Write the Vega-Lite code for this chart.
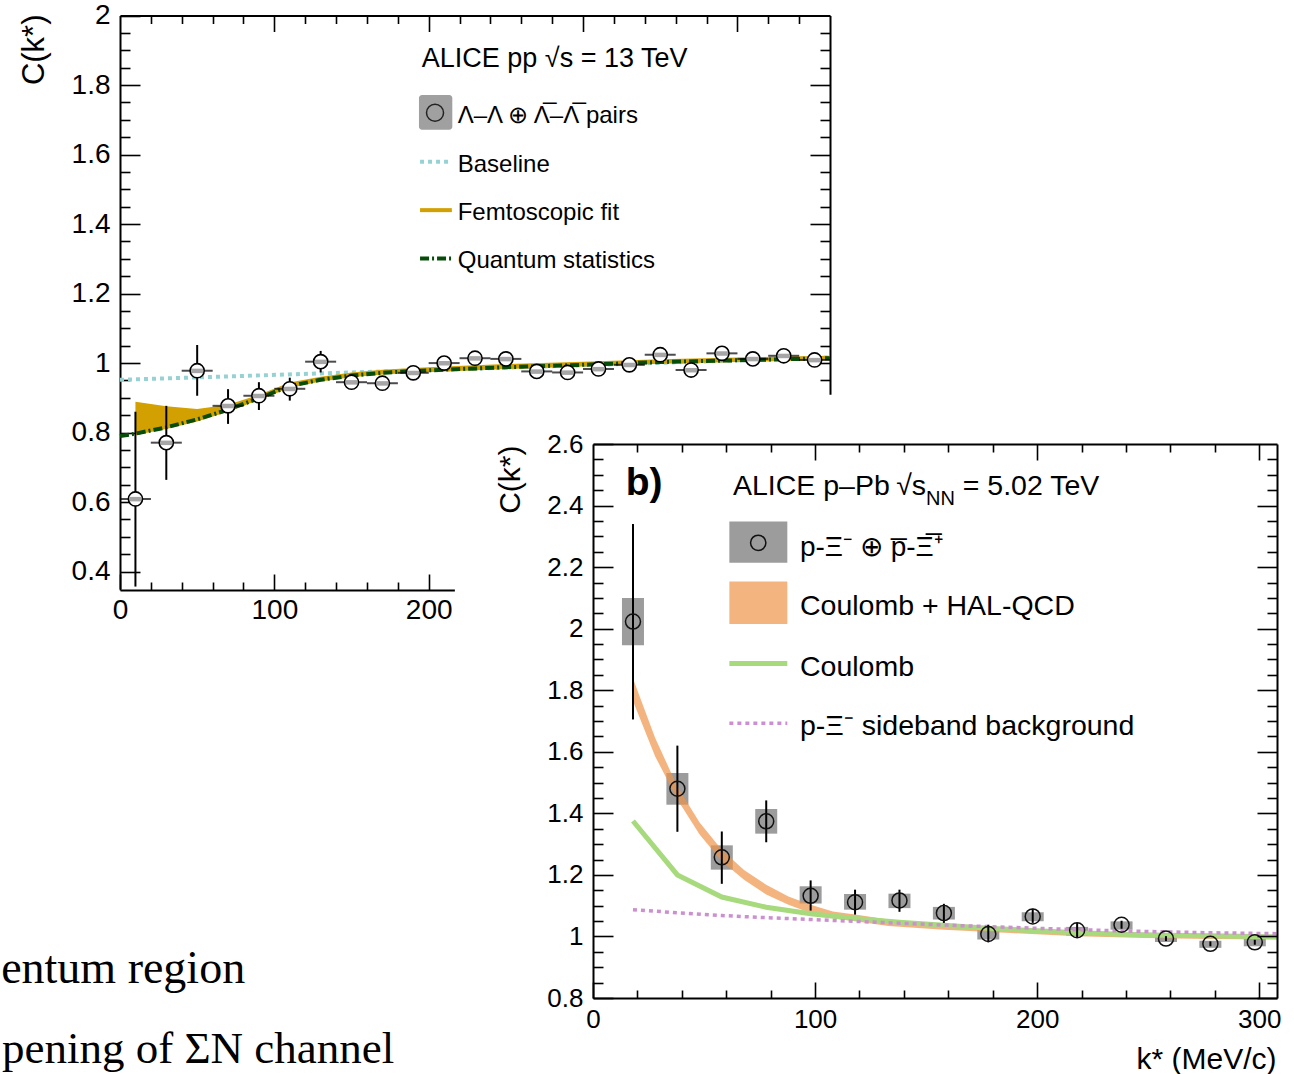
{
"$schema": "https://vega.github.io/schema/vega-lite/v6.json",
"width": 1294, "height": 1074, "autosize": "none", "padding": 0, "background": "white",
"config": {"view": {"stroke": null}, "scale": {"continuousPadding": 0},
 "axis": {"domainColor": "black", "domainWidth": 2, "tickColor": "black", "tickWidth": 1.6, "labelColor": "black", "labelFont": "Liberation Sans", "labelFlush": false, "labelOverlap": false, "labelBound": false, "grid": false, "titleColor": "black", "titleFont": "Liberation Sans", "titleFontWeight": "normal"}},
"datasets": {
 "a_pts": [
  {"k":10,"c":0.609,"lo":0.357,"hi":0.860,"slo":0.602,"shi":0.615},
  {"k":30,"c":0.771,"lo":0.664,"hi":0.877,"slo":0.764,"shi":0.777},
  {"k":50,"c":0.978,"lo":0.906,"hi":1.052,"slo":0.971,"shi":0.984},
  {"k":70,"c":0.877,"lo":0.825,"hi":0.925,"slo":0.870,"shi":0.883},
  {"k":90,"c":0.906,"lo":0.865,"hi":0.945,"slo":0.899,"shi":0.912},
  {"k":110,"c":0.926,"lo":0.892,"hi":0.958,"slo":0.919,"shi":0.932},
  {"k":130,"c":1.004,"lo":0.973,"hi":1.035,"slo":0.997,"shi":1.010},
  {"k":150,"c":0.945,"lo":0.930,"hi":0.960,"slo":0.938,"shi":0.951},
  {"k":170,"c":0.942,"lo":0.928,"hi":0.956,"slo":0.935,"shi":0.948},
  {"k":190,"c":0.972,"lo":0.960,"hi":0.984,"slo":0.965,"shi":0.978},
  {"k":210,"c":1.000,"lo":0.990,"hi":1.010,"slo":0.993,"shi":1.006},
  {"k":230,"c":1.014,"lo":1.004,"hi":1.024,"slo":1.007,"shi":1.020},
  {"k":250,"c":1.012,"lo":1.002,"hi":1.022,"slo":1.005,"shi":1.018},
  {"k":270,"c":0.976,"lo":0.966,"hi":0.986,"slo":0.969,"shi":0.982},
  {"k":290,"c":0.973,"lo":0.963,"hi":0.983,"slo":0.966,"shi":0.979},
  {"k":310,"c":0.983,"lo":0.973,"hi":0.993,"slo":0.976,"shi":0.989},
  {"k":330,"c":0.995,"lo":0.985,"hi":1.005,"slo":0.988,"shi":1.001},
  {"k":350,"c":1.024,"lo":1.014,"hi":1.034,"slo":1.017,"shi":1.030},
  {"k":370,"c":0.980,"lo":0.970,"hi":0.990,"slo":0.973,"shi":0.986},
  {"k":390,"c":1.028,"lo":1.018,"hi":1.038,"slo":1.021,"shi":1.034},
  {"k":410,"c":1.012,"lo":1.002,"hi":1.022,"slo":1.005,"shi":1.018},
  {"k":430,"c":1.021,"lo":1.011,"hi":1.031,"slo":1.014,"shi":1.027},
  {"k":450,"c":1.009,"lo":0.999,"hi":1.019,"slo":1.002,"shi":1.015}
 ],
 "a_fit": [
  {"k":10,"lo":0.793,"hi":0.889},{"k":30,"lo":0.810,"hi":0.876},{"k":50,"lo":0.832,"hi":0.868},
  {"k":70,"lo":0.860,"hi":0.880},{"k":90,"lo":0.894,"hi":0.909},{"k":110,"lo":0.929,"hi":0.944},
  {"k":130,"lo":0.947,"hi":0.961},{"k":150,"lo":0.959,"hi":0.973},{"k":170,"lo":0.967,"hi":0.981},
  {"k":190,"lo":0.972,"hi":0.986},{"k":210,"lo":0.976,"hi":0.990},{"k":250,"lo":0.983,"hi":0.997},
  {"k":300,"lo":0.990,"hi":1.004},{"k":350,"lo":0.998,"hi":1.011},{"k":400,"lo":1.003,"hi":1.016},
  {"k":460,"lo":1.009,"hi":1.021}
 ],
 "a_qs": [
  {"k":0,"c":0.790},{"k":10,"c":0.797},{"k":30,"c":0.815},{"k":50,"c":0.838},{"k":70,"c":0.866},
  {"k":90,"c":0.899},{"k":110,"c":0.934},{"k":130,"c":0.952},{"k":150,"c":0.964},{"k":170,"c":0.972},
  {"k":190,"c":0.977},{"k":210,"c":0.981},{"k":250,"c":0.988},{"k":300,"c":0.995},{"k":350,"c":1.003},
  {"k":400,"c":1.008},{"k":460,"c":1.014}
 ],
 "a_base": [{"k":0,"c":0.952},{"k":460,"c":1.016}],
 "b_pts": [
  {"k":18,"c":2.023,"lo":1.705,"hi":2.340,"slo":1.946,"shi":2.100},
  {"k":38,"c":1.480,"lo":1.340,"hi":1.620,"slo":1.428,"shi":1.531},
  {"k":58,"c":1.257,"lo":1.171,"hi":1.341,"slo":1.217,"shi":1.296},
  {"k":78,"c":1.374,"lo":1.306,"hi":1.442,"slo":1.334,"shi":1.414},
  {"k":98,"c":1.132,"lo":1.084,"hi":1.182,"slo":1.107,"shi":1.163},
  {"k":118,"c":1.111,"lo":1.071,"hi":1.152,"slo":1.087,"shi":1.138},
  {"k":138,"c":1.117,"lo":1.080,"hi":1.152,"slo":1.092,"shi":1.139},
  {"k":158,"c":1.076,"lo":1.044,"hi":1.106,"slo":1.055,"shi":1.096},
  {"k":178,"c":1.008,"lo":0.981,"hi":1.038,"slo":0.990,"shi":1.028},
  {"k":198,"c":1.065,"lo":1.044,"hi":1.090,"slo":1.049,"shi":1.079},
  {"k":218,"c":1.020,"lo":0.998,"hi":1.044,"slo":1.003,"shi":1.031},
  {"k":238,"c":1.038,"lo":1.025,"hi":1.051,"slo":1.022,"shi":1.049},
  {"k":258,"c":0.993,"lo":0.985,"hi":1.001,"slo":0.982,"shi":1.004},
  {"k":278,"c":0.976,"lo":0.968,"hi":0.984,"slo":0.963,"shi":0.986},
  {"k":298,"c":0.981,"lo":0.973,"hi":0.989,"slo":0.968,"shi":0.992}
 ],
 "b_hal": [
  {"k":18,"lo":1.765,"hi":1.838},{"k":28,"lo":1.585,"hi":1.645},{"k":38,"lo":1.445,"hi":1.487},
  {"k":48,"lo":1.331,"hi":1.370},{"k":58,"lo":1.244,"hi":1.282},{"k":68,"lo":1.184,"hi":1.216},
  {"k":78,"lo":1.136,"hi":1.168},{"k":88,"lo":1.103,"hi":1.130},{"k":98,"lo":1.076,"hi":1.103},
  {"k":108,"lo":1.059,"hi":1.081},{"k":118,"lo":1.049,"hi":1.071},{"k":133,"lo":1.034,"hi":1.055},
  {"k":158,"lo":1.022,"hi":1.038},{"k":188,"lo":1.011,"hi":1.028},{"k":218,"lo":1.001,"hi":1.016},
  {"k":248,"lo":0.995,"hi":1.009},{"k":278,"lo":0.992,"hi":1.003},{"k":308,"lo":0.990,"hi":1.000}
 ],
 "b_coul": [
  {"k":18,"c":1.375},{"k":38,"c":1.200},{"k":58,"c":1.128},{"k":78,"c":1.095},{"k":98,"c":1.074},
  {"k":118,"c":1.058},{"k":138,"c":1.046},{"k":158,"c":1.036},{"k":178,"c":1.027},{"k":198,"c":1.019},
  {"k":218,"c":1.012},{"k":238,"c":1.007},{"k":258,"c":1.004},{"k":278,"c":1.002},{"k":298,"c":1.000},
  {"k":308,"c":0.999}
 ],
 "b_side": [
  {"k":18,"c":1.087},{"k":38,"c":1.077},{"k":58,"c":1.068},{"k":78,"c":1.061},{"k":98,"c":1.055},
  {"k":118,"c":1.049},{"k":138,"c":1.043},{"k":158,"c":1.037},{"k":178,"c":1.032},{"k":198,"c":1.027},
  {"k":218,"c":1.022},{"k":238,"c":1.018},{"k":258,"c":1.015},{"k":278,"c":1.012},{"k":298,"c":1.010},
  {"k":308,"c":1.009}
 ]
},
"resolve": {"scale": {"x": "independent", "y": "independent"}},
"layer": [
 {
  "resolve": {"axis": {"x": "independent", "y": "independent"}},
  "layer": [
   {"data": {"name": "a_base"},
    "mark": {"type": "line", "color": "#96d2d2", "strokeWidth": 4, "strokeDash": [4, 4]},
    "encoding": {
     "x": {"field": "k", "type": "quantitative", "scale": {"domain": [0, 460], "range": [120, 830], "nice": false, "zero": false, "padding": 0},
      "axis": {"orient": "bottom", "offset": -484, "values": [0,20,40,60,80,100,120,140,160,180,200,220,240,260,280,300,320,340,360,380,400,420,440], "format": "d", "labelFlush": false, "labelAlign": "center", "labelExpr": "datum.value % 100 === 0 && datum.value <= 200 ? datum.label : ''", "tickSize": {"condition": {"test": "datum.value % 100 === 0", "value": -16}, "value": -8}, "labelPadding": 22, "labelFontSize": 28, "title": null}},
     "y": {"field": "c", "type": "quantitative", "scale": {"domain": [0.35, 2], "range": [589, 15.5], "nice": false, "zero": false, "padding": 0},
      "axis": {"orient": "left", "offset": -120, "values": [0.4,0.45,0.5,0.55,0.6,0.65,0.7,0.75,0.8,0.85,0.9,0.95,1,1.05,1.1,1.15,1.2,1.25,1.3,1.35,1.4,1.45,1.5,1.55,1.6,1.65,1.7,1.75,1.8,1.85,1.9,1.95,2], "format": "~f", "labelFlush": false, "labelExpr": "abs(datum.value*5 - round(datum.value*5)) < 0.001 ? datum.label : ''", "tickSize": {"condition": {"test": "abs(datum.value*5 - round(datum.value*5)) < 0.001", "value": -20}, "value": -10}, "labelPadding": 30, "labelFontSize": 28, "title": "C(k*)", "titleFontSize": 31, "titleAngle": -90, "titleX": -86, "titleY": 14, "titleAlign": "right", "titleBaseline": "middle"}}
    }},
   {"data": {"name": "a_fit"},
    "mark": {"type": "area", "color": "#d2a000", "opacity": 1},
    "encoding": {
     "x": {"field": "k", "type": "quantitative", "scale": {"domain": [0, 460], "range": [120, 830], "nice": false, "zero": false, "padding": 0},
      "axis": {"orient": "top", "offset": -15.5, "values": [20,40,60,80,100,120,140,160,180,200,220,240,260,280,300,320,340,360,380,400,420,440], "labels": false, "tickSize": {"condition": {"test": "datum.value % 100 === 0", "value": -16}, "value": -8}, "title": null}},
     "y": {"field": "lo", "type": "quantitative", "scale": {"domain": [0.35, 2], "range": [589, 15.5], "nice": false, "zero": false, "padding": 0},
      "axis": {"orient": "right", "offset": -464, "values": [0.4,0.45,0.5,0.55,0.6,0.65,0.7,0.75,0.8,0.85,0.9,0.95,1,1.05,1.1,1.15,1.2,1.25,1.3,1.35,1.4,1.45,1.5,1.55,1.6,1.65,1.7,1.75,1.8,1.85,1.9,1.95], "labels": false, "tickSize": {"condition": {"test": "abs(datum.value*5 - round(datum.value*5)) < 0.001", "value": -20}, "value": -10}, "title": null}},
     "y2": {"field": "hi"}
    }},
   {"data": {"name": "a_qs"},
    "mark": {"type": "line", "color": "#064d0a", "strokeWidth": 4, "strokeDash": [9, 3, 2, 3]},
    "encoding": {
     "x": {"field": "k", "type": "quantitative", "scale": {"domain": [0, 460], "range": [120, 830], "nice": false, "zero": false, "padding": 0}, "axis": null},
     "y": {"field": "c", "type": "quantitative", "scale": {"domain": [0.35, 2], "range": [589, 15.5], "nice": false, "zero": false, "padding": 0}, "axis": null}
    }},
   {"data": {"name": "a_pts"},
    "mark": {"type": "rule", "color": "black", "strokeWidth": 2},
    "encoding": {
     "x": {"field": "k", "type": "quantitative", "scale": {"domain": [0, 460], "range": [120, 830], "nice": false, "zero": false, "padding": 0}, "axis": null},
     "y": {"field": "lo", "type": "quantitative", "scale": {"domain": [0.35, 2], "range": [589, 15.5], "nice": false, "zero": false, "padding": 0}, "axis": null},
     "y2": {"field": "hi"}
    }},
   {"data": {"name": "a_pts"},
    "mark": {"type": "tick", "orient": "horizontal", "color": "black", "size": 31, "thickness": 2},
    "encoding": {
     "x": {"field": "k", "type": "quantitative", "scale": {"domain": [0, 460], "range": [120, 830], "nice": false, "zero": false, "padding": 0}, "axis": null},
     "y": {"field": "c", "type": "quantitative", "scale": {"domain": [0.35, 2], "range": [589, 15.5], "nice": false, "zero": false, "padding": 0}, "axis": null}
    }},
   {"data": {"name": "a_pts"},
    "mark": {"type": "point", "shape": "circle", "filled": true, "fill": "white", "opacity": 1, "size": 200},
    "encoding": {
     "x": {"field": "k", "type": "quantitative", "scale": {"domain": [0, 460], "range": [120, 830], "nice": false, "zero": false, "padding": 0}, "axis": null},
     "y": {"field": "c", "type": "quantitative", "scale": {"domain": [0.35, 2], "range": [589, 15.5], "nice": false, "zero": false, "padding": 0}, "axis": null}
    }},
   {"data": {"name": "a_pts"},
    "mark": {"type": "bar", "color": "#a6a6a6", "width": 12},
    "encoding": {
     "x": {"field": "k", "type": "quantitative", "scale": {"domain": [0, 460], "range": [120, 830], "nice": false, "zero": false, "padding": 0}, "axis": null},
     "y": {"field": "slo", "type": "quantitative", "scale": {"domain": [0.35, 2], "range": [589, 15.5], "nice": false, "zero": false, "padding": 0}, "axis": null},
     "y2": {"field": "shi"}
    }},
   {"data": {"name": "a_pts"},
    "mark": {"type": "point", "shape": "circle", "filled": false, "stroke": "black", "strokeWidth": 1.6, "opacity": 1, "size": 200},
    "encoding": {
     "x": {"field": "k", "type": "quantitative", "scale": {"domain": [0, 460], "range": [120, 830], "nice": false, "zero": false, "padding": 0}, "axis": null},
     "y": {"field": "c", "type": "quantitative", "scale": {"domain": [0.35, 2], "range": [589, 15.5], "nice": false, "zero": false, "padding": 0}, "axis": null}
    }},
   {"data": {"values": [{}]},
    "mark": {"type": "text", "text": "ALICE pp  \u221as = 13 TeV", "font": "Liberation Sans", "fontSize": 27, "align": "left", "baseline": "alphabetic", "color": "black"},
    "encoding": {
     "x": {"datum": 195.5, "type": "quantitative", "scale": {"domain": [0, 460], "range": [120, 830], "nice": false, "zero": false, "padding": 0}, "axis": null},
     "y": {"datum": 1.853, "type": "quantitative", "scale": {"domain": [0.35, 2], "range": [589, 15.5], "nice": false, "zero": false, "padding": 0}, "axis": null}
    }},
   {"data": {"values": [{}]},
    "mark": {"type": "rect", "color": "#a0a0a0", "cornerRadius": 3},
    "encoding": {
     "x": {"datum": 193.7, "type": "quantitative", "scale": {"domain": [0, 460], "range": [120, 830], "nice": false, "zero": false, "padding": 0}, "axis": null},
     "x2": {"datum": 215.3},
     "y": {"datum": 1.771, "type": "quantitative", "scale": {"domain": [0.35, 2], "range": [589, 15.5], "nice": false, "zero": false, "padding": 0}, "axis": null},
     "y2": {"datum": 1.671}
    }},
   {"data": {"values": [{}]},
    "mark": {"type": "point", "shape": "circle", "filled": false, "stroke": "#222222", "strokeWidth": 1.5, "opacity": 1, "size": 290},
    "encoding": {
     "x": {"datum": 204.1, "type": "quantitative", "scale": {"domain": [0, 460], "range": [120, 830], "nice": false, "zero": false, "padding": 0}, "axis": null},
     "y": {"datum": 1.720, "type": "quantitative", "scale": {"domain": [0.35, 2], "range": [589, 15.5], "nice": false, "zero": false, "padding": 0}, "axis": null}
    }},
   {"data": {"values": [{}]},
    "mark": {"type": "text", "text": "\u039b\u2013\u039b \u2295 \u039b\u0305\u2013\u039b\u0305 pairs", "font": "Liberation Sans", "fontSize": 24, "align": "left", "baseline": "alphabetic", "color": "black"},
    "encoding": {
     "x": {"datum": 218.8, "type": "quantitative", "scale": {"domain": [0, 460], "range": [120, 830], "nice": false, "zero": false, "padding": 0}, "axis": null},
     "y": {"datum": 1.690, "type": "quantitative", "scale": {"domain": [0.35, 2], "range": [589, 15.5], "nice": false, "zero": false, "padding": 0}, "axis": null}
    }},
   {"data": {"values": [{}]},
    "mark": {"type": "rule", "color": "#96d2d2", "strokeWidth": 4, "strokeDash": [4, 4]},
    "encoding": {
     "x": {"datum": 194.4, "type": "quantitative", "scale": {"domain": [0, 460], "range": [120, 830], "nice": false, "zero": false, "padding": 0}, "axis": null},
     "x2": {"datum": 215.0},
     "y": {"datum": 1.579, "type": "quantitative", "scale": {"domain": [0.35, 2], "range": [589, 15.5], "nice": false, "zero": false, "padding": 0}, "axis": null}
    }},
   {"data": {"values": [{}]},
    "mark": {"type": "text", "text": "Baseline", "font": "Liberation Sans", "fontSize": 24, "align": "left", "baseline": "alphabetic", "color": "black"},
    "encoding": {
     "x": {"datum": 218.8, "type": "quantitative", "scale": {"domain": [0, 460], "range": [120, 830], "nice": false, "zero": false, "padding": 0}, "axis": null},
     "y": {"datum": 1.551, "type": "quantitative", "scale": {"domain": [0.35, 2], "range": [589, 15.5], "nice": false, "zero": false, "padding": 0}, "axis": null}
    }},
   {"data": {"values": [{}]},
    "mark": {"type": "rule", "color": "#d2a000", "strokeWidth": 4},
    "encoding": {
     "x": {"datum": 194.4, "type": "quantitative", "scale": {"domain": [0, 460], "range": [120, 830], "nice": false, "zero": false, "padding": 0}, "axis": null},
     "x2": {"datum": 215.0},
     "y": {"datum": 1.440, "type": "quantitative", "scale": {"domain": [0.35, 2], "range": [589, 15.5], "nice": false, "zero": false, "padding": 0}, "axis": null}
    }},
   {"data": {"values": [{}]},
    "mark": {"type": "text", "text": "Femtoscopic fit", "font": "Liberation Sans", "fontSize": 24, "align": "left", "baseline": "alphabetic", "color": "black"},
    "encoding": {
     "x": {"datum": 218.8, "type": "quantitative", "scale": {"domain": [0, 460], "range": [120, 830], "nice": false, "zero": false, "padding": 0}, "axis": null},
     "y": {"datum": 1.412, "type": "quantitative", "scale": {"domain": [0.35, 2], "range": [589, 15.5], "nice": false, "zero": false, "padding": 0}, "axis": null}
    }},
   {"data": {"values": [{}]},
    "mark": {"type": "rule", "color": "#064d0a", "strokeWidth": 4, "strokeDash": [9, 3, 2, 3]},
    "encoding": {
     "x": {"datum": 194.4, "type": "quantitative", "scale": {"domain": [0, 460], "range": [120, 830], "nice": false, "zero": false, "padding": 0}, "axis": null},
     "x2": {"datum": 215.0},
     "y": {"datum": 1.301, "type": "quantitative", "scale": {"domain": [0.35, 2], "range": [589, 15.5], "nice": false, "zero": false, "padding": 0}, "axis": null}
    }},
   {"data": {"values": [{}]},
    "mark": {"type": "text", "text": "Quantum statistics", "font": "Liberation Sans", "fontSize": 24, "align": "left", "baseline": "alphabetic", "color": "black"},
    "encoding": {
     "x": {"datum": 218.8, "type": "quantitative", "scale": {"domain": [0, 460], "range": [120, 830], "nice": false, "zero": false, "padding": 0}, "axis": null},
     "y": {"datum": 1.273, "type": "quantitative", "scale": {"domain": [0.35, 2], "range": [589, 15.5], "nice": false, "zero": false, "padding": 0}, "axis": null}
    }},
   {"data": {"values": [{}]},
    "mark": {"type": "text", "text": "entum region", "font": "Liberation Serif", "fontSize": 46, "align": "left", "baseline": "alphabetic", "color": "black"},
    "encoding": {
     "x": {"datum": -77.0, "type": "quantitative", "scale": {"domain": [0, 460], "range": [120, 830], "nice": false, "zero": false, "padding": 0}, "axis": null},
     "y": {"datum": -0.7835, "type": "quantitative", "scale": {"domain": [0.35, 2], "range": [589, 15.5], "nice": false, "zero": false, "padding": 0}, "axis": null}
    }},
   {"data": {"values": [{}]},
    "mark": {"type": "text", "text": "pening of \u03a3N channel", "font": "Liberation Serif", "fontSize": 45, "align": "left", "baseline": "alphabetic", "color": "black"},
    "encoding": {
     "x": {"datum": -76.5, "type": "quantitative", "scale": {"domain": [0, 460], "range": [120, 830], "nice": false, "zero": false, "padding": 0}, "axis": null},
     "y": {"datum": -1.0137, "type": "quantitative", "scale": {"domain": [0.35, 2], "range": [589, 15.5], "nice": false, "zero": false, "padding": 0}, "axis": null}
    }}
  ]
 },
 {
  "resolve": {"axis": {"x": "independent", "y": "independent"}},
  "layer": [
   {"data": {"values": [{}]},
    "mark": {"type": "rect", "color": "white", "opacity": 1},
    "encoding": {
     "x": {"datum": -62.2, "type": "quantitative", "scale": {"domain": [0, 308], "range": [593, 1277], "nice": false, "zero": false, "padding": 0}, "axis": null},
     "x2": {"datum": 316},
     "y": {"datum": 2.76, "type": "quantitative", "scale": {"domain": [0.8, 2.6], "range": [998, 444], "nice": false, "zero": false, "padding": 0}, "axis": null},
     "y2": {"datum": 0.55}
    }},
   {"data": {"name": "b_pts"},
    "mark": {"type": "bar", "color": "#9c9c9c", "width": 22},
    "encoding": {
     "x": {"field": "k", "type": "quantitative", "scale": {"domain": [0, 308], "range": [593, 1277], "nice": false, "zero": false, "padding": 0},
      "axis": {"orient": "bottom", "offset": -76, "zindex": 1, "values": [0,20,40,60,80,100,120,140,160,180,200,220,240,260,280,300], "format": "d", "labelFlush": false, "labelAlign": "center", "labelExpr": "datum.value % 100 === 0 ? datum.label : ''", "tickSize": {"condition": {"test": "datum.value % 100 === 0", "value": -16}, "value": -8}, "labelPadding": 24, "labelFontSize": 26, "title": "k* (MeV/c)", "titleFontSize": 30, "titleAngle": 0, "titleX": 1276, "titleY": 70, "titleAlign": "right", "titleBaseline": "alphabetic"}},
     "y": {"field": "slo", "type": "quantitative", "scale": {"domain": [0.8, 2.6], "range": [998, 444], "nice": false, "zero": false, "padding": 0},
      "axis": {"orient": "left", "offset": -593, "zindex": 1, "values": [0.8,0.85,0.9,0.95,1,1.05,1.1,1.15,1.2,1.25,1.3,1.35,1.4,1.45,1.5,1.55,1.6,1.65,1.7,1.75,1.8,1.85,1.9,1.95,2,2.05,2.1,2.15,2.2,2.25,2.3,2.35,2.4,2.45,2.5,2.55,2.6], "format": "~f", "labelFlush": false, "labelExpr": "abs(datum.value*5 - round(datum.value*5)) < 0.001 ? datum.label : ''", "tickSize": {"condition": {"test": "abs(datum.value*5 - round(datum.value*5)) < 0.001", "value": -20}, "value": -10}, "labelPadding": 30, "labelFontSize": 26, "title": "C(k*)", "titleFontSize": 30, "titleAngle": -90, "titleX": -83, "titleY": 445, "titleAlign": "right", "titleBaseline": "middle"}},
     "y2": {"field": "shi"}
    }},
   {"data": {"name": "b_hal"},
    "mark": {"type": "area", "color": "#f0944a", "opacity": 0.7},
    "encoding": {
     "x": {"field": "k", "type": "quantitative", "scale": {"domain": [0, 308], "range": [593, 1277], "nice": false, "zero": false, "padding": 0},
      "axis": {"orient": "top", "offset": -444, "zindex": 1, "values": [20,40,60,80,100,120,140,160,180,200,220,240,260,280,300], "labels": false, "tickSize": {"condition": {"test": "datum.value % 100 === 0", "value": -16}, "value": -8}, "title": null}},
     "y": {"field": "lo", "type": "quantitative", "scale": {"domain": [0.8, 2.6], "range": [998, 444], "nice": false, "zero": false, "padding": 0},
      "axis": {"orient": "right", "offset": -17, "zindex": 1, "values": [0.8,0.85,0.9,0.95,1,1.05,1.1,1.15,1.2,1.25,1.3,1.35,1.4,1.45,1.5,1.55,1.6,1.65,1.7,1.75,1.8,1.85,1.9,1.95,2,2.05,2.1,2.15,2.2,2.25,2.3,2.35,2.4,2.45,2.5,2.55], "labels": false, "tickSize": {"condition": {"test": "abs(datum.value*5 - round(datum.value*5)) < 0.001", "value": -20}, "value": -10}, "title": null}},
     "y2": {"field": "hi"}
    }},
   {"data": {"name": "b_coul"},
    "mark": {"type": "line", "color": "#a6da7c", "strokeWidth": 5},
    "encoding": {
     "x": {"field": "k", "type": "quantitative", "scale": {"domain": [0, 308], "range": [593, 1277], "nice": false, "zero": false, "padding": 0}, "axis": null},
     "y": {"field": "c", "type": "quantitative", "scale": {"domain": [0.8, 2.6], "range": [998, 444], "nice": false, "zero": false, "padding": 0}, "axis": null}
    }},
   {"data": {"name": "b_side"},
    "mark": {"type": "line", "color": "#cc90d0", "strokeWidth": 3.5, "strokeDash": [4, 4]},
    "encoding": {
     "x": {"field": "k", "type": "quantitative", "scale": {"domain": [0, 308], "range": [593, 1277], "nice": false, "zero": false, "padding": 0}, "axis": null},
     "y": {"field": "c", "type": "quantitative", "scale": {"domain": [0.8, 2.6], "range": [998, 444], "nice": false, "zero": false, "padding": 0}, "axis": null}
    }},
   {"data": {"name": "b_pts"},
    "mark": {"type": "rule", "color": "black", "strokeWidth": 2},
    "encoding": {
     "x": {"field": "k", "type": "quantitative", "scale": {"domain": [0, 308], "range": [593, 1277], "nice": false, "zero": false, "padding": 0}, "axis": null},
     "y": {"field": "lo", "type": "quantitative", "scale": {"domain": [0.8, 2.6], "range": [998, 444], "nice": false, "zero": false, "padding": 0}, "axis": null},
     "y2": {"field": "hi"}
    }},
   {"data": {"name": "b_pts"},
    "mark": {"type": "point", "shape": "circle", "filled": false, "stroke": "#111111", "strokeWidth": 1.5, "opacity": 1, "size": 225},
    "encoding": {
     "x": {"field": "k", "type": "quantitative", "scale": {"domain": [0, 308], "range": [593, 1277], "nice": false, "zero": false, "padding": 0}, "axis": null},
     "y": {"field": "c", "type": "quantitative", "scale": {"domain": [0.8, 2.6], "range": [998, 444], "nice": false, "zero": false, "padding": 0}, "axis": null}
    }},
   {"data": {"values": [{}]},
    "mark": {"type": "text", "text": "b)", "font": "Liberation Sans", "fontSize": 39, "fontWeight": "bold", "align": "left", "baseline": "alphabetic", "color": "black"},
    "encoding": {
     "x": {"datum": 14.7, "type": "quantitative", "scale": {"domain": [0, 308], "range": [593, 1277], "nice": false, "zero": false, "padding": 0}, "axis": null},
     "y": {"datum": 2.434, "type": "quantitative", "scale": {"domain": [0.8, 2.6], "range": [998, 444], "nice": false, "zero": false, "padding": 0}, "axis": null}
    }},
   {"data": {"values": [{}]},
    "mark": {"type": "text", "text": "ALICE p\u2013Pb", "font": "Liberation Sans", "fontSize": 28.5, "align": "left", "baseline": "alphabetic", "color": "black"},
    "encoding": {
     "x": {"datum": 63.0, "type": "quantitative", "scale": {"domain": [0, 308], "range": [593, 1277], "nice": false, "zero": false, "padding": 0}, "axis": null},
     "y": {"datum": 2.434, "type": "quantitative", "scale": {"domain": [0.8, 2.6], "range": [998, 444], "nice": false, "zero": false, "padding": 0}, "axis": null}
    }},
   {"data": {"values": [{}]},
    "mark": {"type": "text", "text": "\u221as", "font": "Liberation Sans", "fontSize": 28.5, "align": "left", "baseline": "alphabetic", "color": "black"},
    "encoding": {
     "x": {"datum": 136.5, "type": "quantitative", "scale": {"domain": [0, 308], "range": [593, 1277], "nice": false, "zero": false, "padding": 0}, "axis": null},
     "y": {"datum": 2.434, "type": "quantitative", "scale": {"domain": [0.8, 2.6], "range": [998, 444], "nice": false, "zero": false, "padding": 0}, "axis": null}
    }},
   {"data": {"values": [{}]},
    "mark": {"type": "text", "text": "NN", "font": "Liberation Sans", "fontSize": 20, "align": "left", "baseline": "alphabetic", "color": "black"},
    "encoding": {
     "x": {"datum": 150.0, "type": "quantitative", "scale": {"domain": [0, 308], "range": [593, 1277], "nice": false, "zero": false, "padding": 0}, "axis": null},
     "y": {"datum": 2.402, "type": "quantitative", "scale": {"domain": [0.8, 2.6], "range": [998, 444], "nice": false, "zero": false, "padding": 0}, "axis": null}
    }},
   {"data": {"values": [{}]},
    "mark": {"type": "text", "text": "= 5.02 TeV", "font": "Liberation Sans", "fontSize": 28.5, "align": "left", "baseline": "alphabetic", "color": "black"},
    "encoding": {
     "x": {"datum": 166.5, "type": "quantitative", "scale": {"domain": [0, 308], "range": [593, 1277], "nice": false, "zero": false, "padding": 0}, "axis": null},
     "y": {"datum": 2.434, "type": "quantitative", "scale": {"domain": [0.8, 2.6], "range": [998, 444], "nice": false, "zero": false, "padding": 0}, "axis": null}
    }},
   {"data": {"values": [{}]},
    "mark": {"type": "rect", "color": "#9c9c9c"},
    "encoding": {
     "x": {"datum": 61.4, "type": "quantitative", "scale": {"domain": [0, 308], "range": [593, 1277], "nice": false, "zero": false, "padding": 0}, "axis": null},
     "x2": {"datum": 87.5},
     "y": {"datum": 2.348, "type": "quantitative", "scale": {"domain": [0.8, 2.6], "range": [998, 444], "nice": false, "zero": false, "padding": 0}, "axis": null},
     "y2": {"datum": 2.214}
    }},
   {"data": {"values": [{}]},
    "mark": {"type": "point", "shape": "circle", "filled": false, "stroke": "#111111", "strokeWidth": 1.5, "opacity": 1, "size": 235},
    "encoding": {
     "x": {"datum": 74.4, "type": "quantitative", "scale": {"domain": [0, 308], "range": [593, 1277], "nice": false, "zero": false, "padding": 0}, "axis": null},
     "y": {"datum": 2.279, "type": "quantitative", "scale": {"domain": [0.8, 2.6], "range": [998, 444], "nice": false, "zero": false, "padding": 0}, "axis": null}
    }},
   {"data": {"values": [{}]},
    "mark": {"type": "text", "text": "p-\u039e\u207b \u2295 p\u0305-\u039e\u0305\u207a", "font": "Liberation Sans", "fontSize": 28, "align": "left", "baseline": "alphabetic", "color": "black"},
    "encoding": {
     "x": {"datum": 93.2, "type": "quantitative", "scale": {"domain": [0, 308], "range": [593, 1277], "nice": false, "zero": false, "padding": 0}, "axis": null},
     "y": {"datum": 2.236, "type": "quantitative", "scale": {"domain": [0.8, 2.6], "range": [998, 444], "nice": false, "zero": false, "padding": 0}, "axis": null}
    }},
   {"data": {"values": [{}]},
    "mark": {"type": "rect", "color": "#f0944a", "opacity": 0.7},
    "encoding": {
     "x": {"datum": 61.4, "type": "quantitative", "scale": {"domain": [0, 308], "range": [593, 1277], "nice": false, "zero": false, "padding": 0}, "axis": null},
     "x2": {"datum": 87.5},
     "y": {"datum": 2.153, "type": "quantitative", "scale": {"domain": [0.8, 2.6], "range": [998, 444], "nice": false, "zero": false, "padding": 0}, "axis": null},
     "y2": {"datum": 2.015}
    }},
   {"data": {"values": [{}]},
    "mark": {"type": "text", "text": "Coulomb + HAL-QCD", "font": "Liberation Sans", "fontSize": 28.5, "align": "left", "baseline": "alphabetic", "color": "black"},
    "encoding": {
     "x": {"datum": 93.2, "type": "quantitative", "scale": {"domain": [0, 308], "range": [593, 1277], "nice": false, "zero": false, "padding": 0}, "axis": null},
     "y": {"datum": 2.044, "type": "quantitative", "scale": {"domain": [0.8, 2.6], "range": [998, 444], "nice": false, "zero": false, "padding": 0}, "axis": null}
    }},
   {"data": {"values": [{}]},
    "mark": {"type": "rule", "color": "#a6da7c", "strokeWidth": 5},
    "encoding": {
     "x": {"datum": 61.4, "type": "quantitative", "scale": {"domain": [0, 308], "range": [593, 1277], "nice": false, "zero": false, "padding": 0}, "axis": null},
     "x2": {"datum": 87.5},
     "y": {"datum": 1.887, "type": "quantitative", "scale": {"domain": [0.8, 2.6], "range": [998, 444], "nice": false, "zero": false, "padding": 0}, "axis": null}
    }},
   {"data": {"values": [{}]},
    "mark": {"type": "text", "text": "Coulomb", "font": "Liberation Sans", "fontSize": 28.5, "align": "left", "baseline": "alphabetic", "color": "black"},
    "encoding": {
     "x": {"datum": 93.2, "type": "quantitative", "scale": {"domain": [0, 308], "range": [593, 1277], "nice": false, "zero": false, "padding": 0}, "axis": null},
     "y": {"datum": 1.846, "type": "quantitative", "scale": {"domain": [0.8, 2.6], "range": [998, 444], "nice": false, "zero": false, "padding": 0}, "axis": null}
    }},
   {"data": {"values": [{}]},
    "mark": {"type": "rule", "color": "#cc90d0", "strokeWidth": 3.5, "strokeDash": [4, 4]},
    "encoding": {
     "x": {"datum": 61.4, "type": "quantitative", "scale": {"domain": [0, 308], "range": [593, 1277], "nice": false, "zero": false, "padding": 0}, "axis": null},
     "x2": {"datum": 87.5},
     "y": {"datum": 1.693, "type": "quantitative", "scale": {"domain": [0.8, 2.6], "range": [998, 444], "nice": false, "zero": false, "padding": 0}, "axis": null}
    }},
   {"data": {"values": [{}]},
    "mark": {"type": "text", "text": "p-\u039e\u207b sideband background", "font": "Liberation Sans", "fontSize": 28.5, "align": "left", "baseline": "alphabetic", "color": "black"},
    "encoding": {
     "x": {"datum": 93.2, "type": "quantitative", "scale": {"domain": [0, 308], "range": [593, 1277], "nice": false, "zero": false, "padding": 0}, "axis": null},
     "y": {"datum": 1.654, "type": "quantitative", "scale": {"domain": [0.8, 2.6], "range": [998, 444], "nice": false, "zero": false, "padding": 0}, "axis": null}
    }}
  ]
 }
]
}
